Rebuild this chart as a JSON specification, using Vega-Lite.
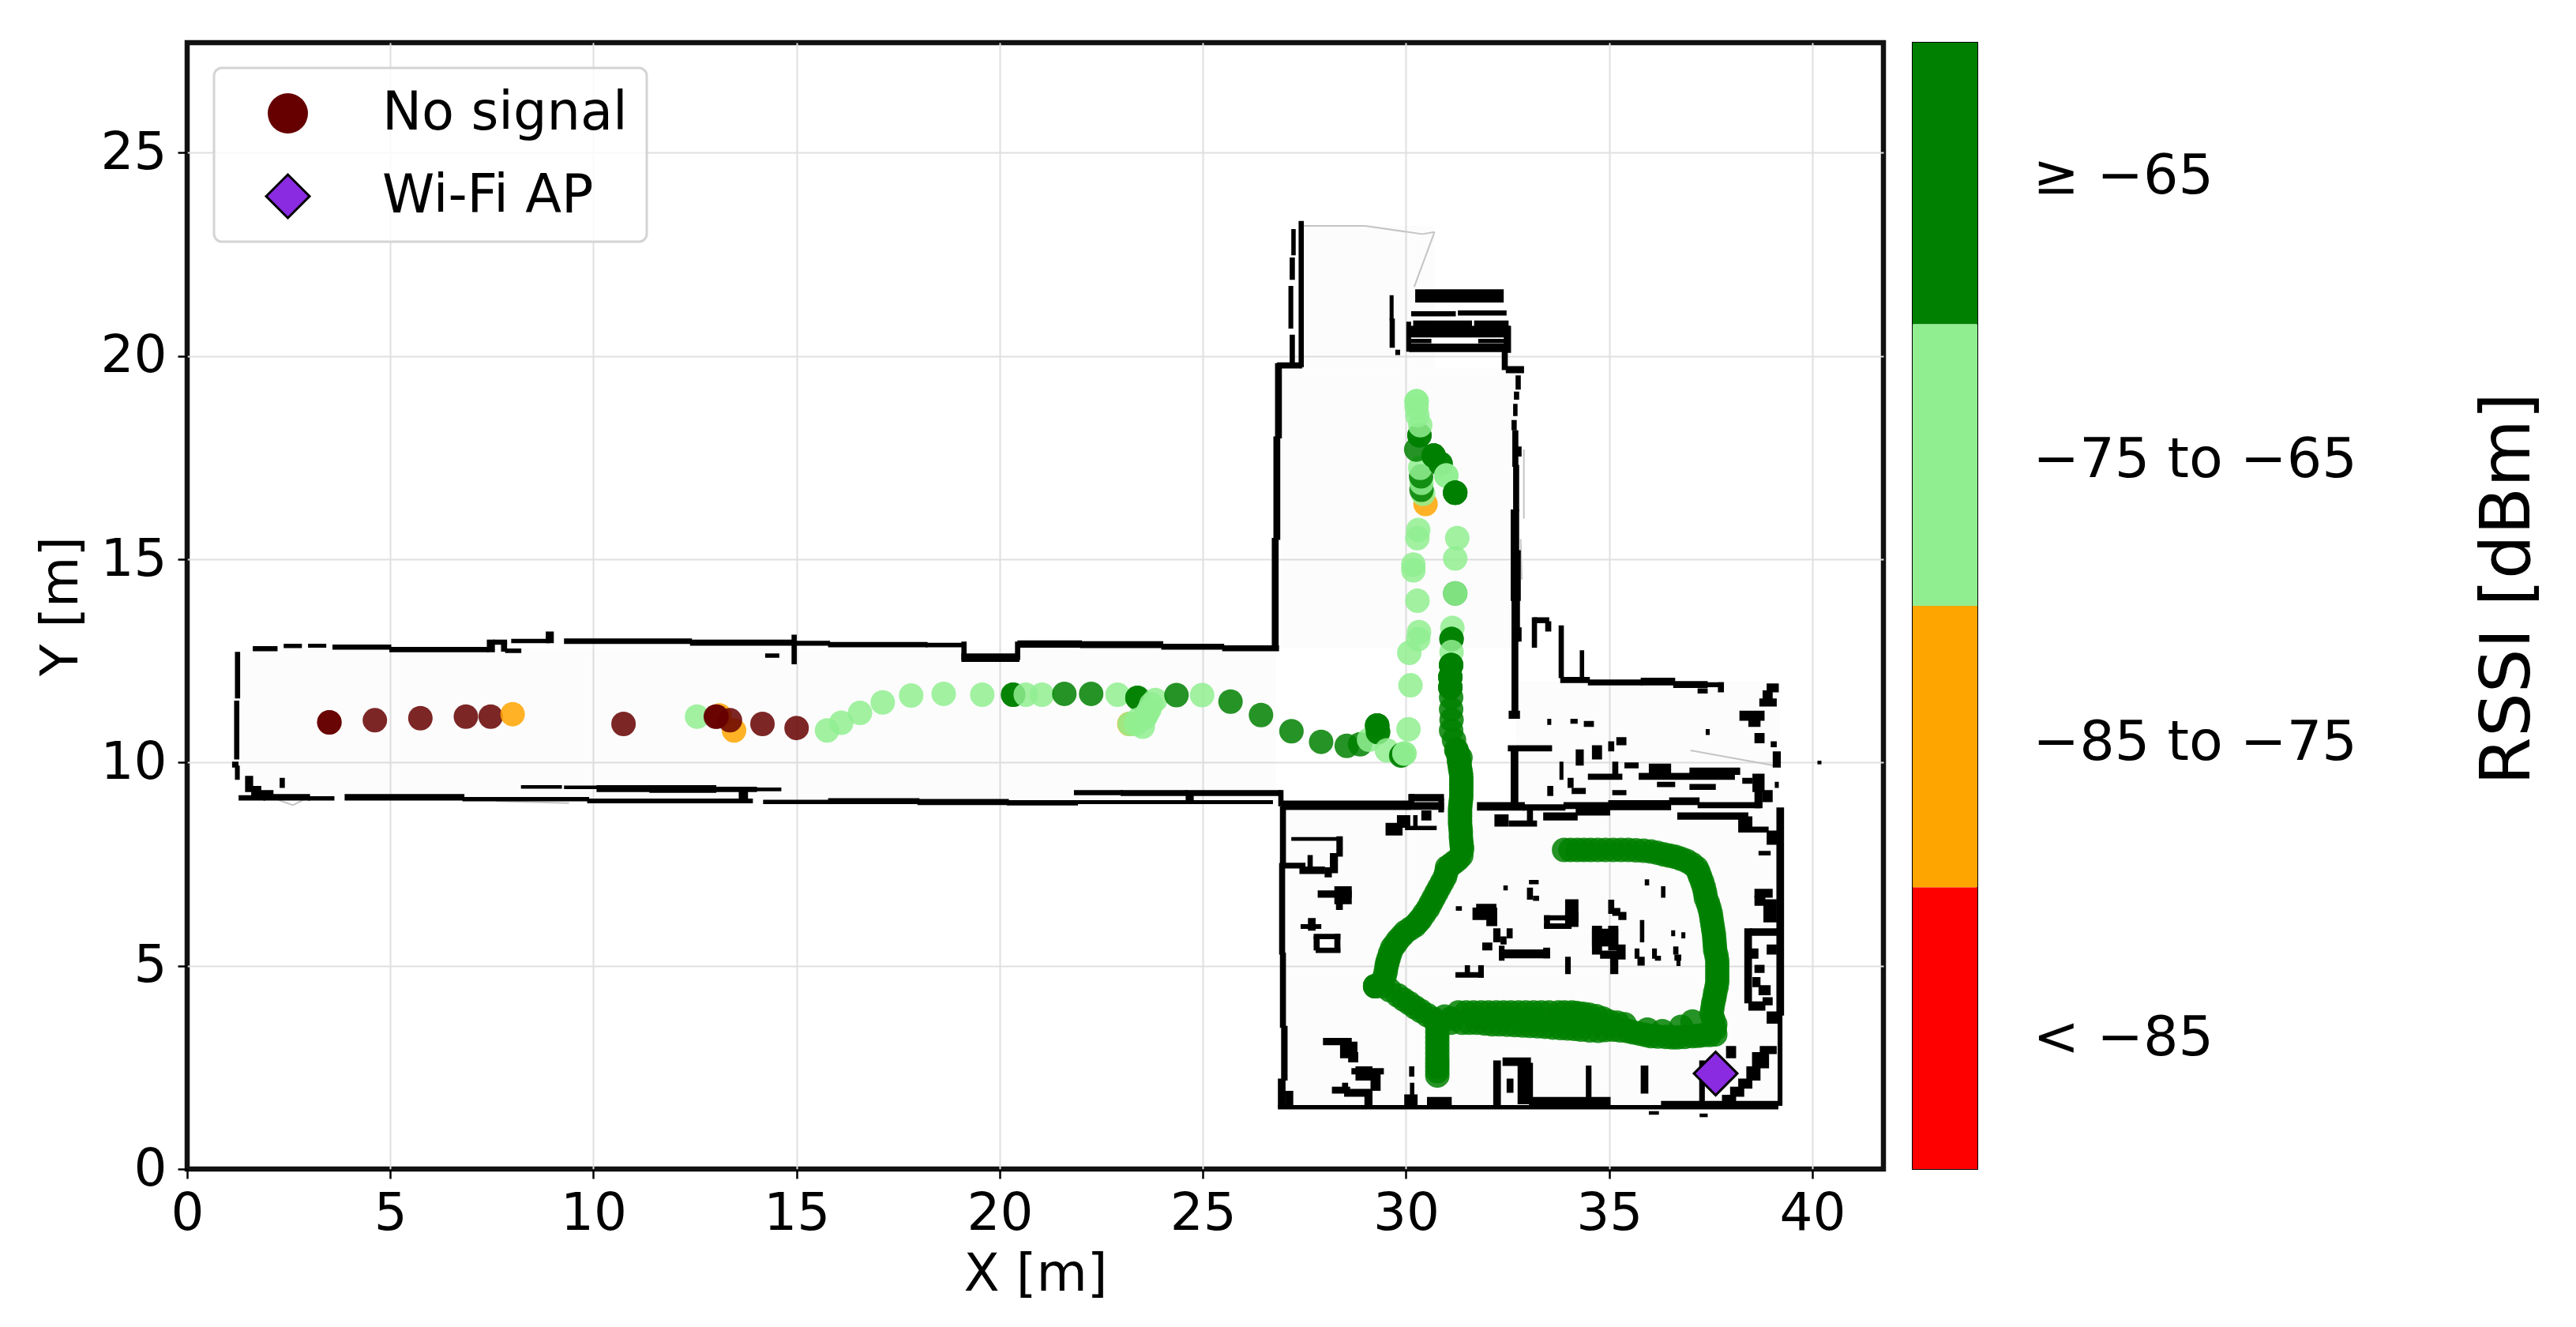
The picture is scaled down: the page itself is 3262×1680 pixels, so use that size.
{
"$schema":"https://vega.github.io/schema/vega-lite/v6.json",
"background":"white",
"padding":{"left":40,"top":50,"right":40,"bottom":20},
"spacing":32,
"config":{"font":"DejaVu Sans","axis":{"labelFont":"DejaVu Sans","titleFont":"DejaVu Sans"}},
"datasets":{
"floor":[{"x":1.3,"x2":26.8,"y":9.1,"y2":12.8},{"x":26.9,"x2":32.7,"y":12.8,"y2":19.7},{"x":27.4,"x2":30.7,"y":19.7,"y2":23.2},{"x":27,"x2":39.2,"y":1.5,"y2":8.9},{"x":32.7,"x2":39.2,"y":8.9,"y2":12}],
"walls":[
{"x":1.2,"x2":1.28,"y":12.7,"y2":11.6},{"x":1.18,"x2":1.26,"y":11.5,"y2":10.1},{"x":1.13,"x2":1.24,"y":10.0,"y2":9.9},{"x":1.2,"x2":1.27,"y":9.9,"y2":9.6},
{"x":1.64,"x2":2.2,"y":12.84,"y2":12.76},{"x":2.4,"x2":2.8,"y":12.9,"y2":12.84},{"x":3.0,"x2":3.4,"y":12.9,"y2":12.85},{"x":3.6,"x2":5.0,"y":12.88,"y2":12.8},{"x":5.0,"x2":7.4,"y":12.82,"y2":12.74},{"x":7.4,"x2":7.55,"y":13.0,"y2":12.74},{"x":7.55,"x2":7.85,"y":13.0,"y2":12.92},{"x":7.75,"x2":7.85,"y":12.95,"y2":12.75},{"x":7.85,"x2":8.2,"y":12.78,"y2":12.72},
{"x":8.0,"x2":8.9,"y":13.02,"y2":12.96},{"x":8.85,"x2":9.0,"y":13.2,"y2":12.96},{"x":9.3,"x2":12.4,"y":13.03,"y2":12.94},{"x":12.4,"x2":14.9,"y":13.0,"y2":12.9},{"x":14.25,"x2":14.55,"y":12.66,"y2":12.6},{"x":14.9,"x2":14.98,"y":13.12,"y2":12.44},{"x":15.0,"x2":15.8,"y":12.97,"y2":12.9},
{"x":15.8,"x2":18.2,"y":12.94,"y2":12.86},{"x":18.2,"x2":19.1,"y":12.92,"y2":12.86},{"x":19.08,"x2":19.16,"y":12.95,"y2":12.55},{"x":19.08,"x2":20.46,"y":12.66,"y2":12.5},{"x":20.4,"x2":20.48,"y":12.95,"y2":12.55},{"x":20.46,"x2":22.0,"y":12.98,"y2":12.85},{"x":22.0,"x2":24.0,"y":12.96,"y2":12.84},{"x":24.0,"x2":25.5,"y":12.9,"y2":12.8},{"x":25.5,"x2":26.85,"y":12.86,"y2":12.76},
{"x":1.29,"x2":1.9,"y":9.17,"y2":9.09},{"x":1.9,"x2":3.0,"y":9.2,"y2":9.09},{"x":3.0,"x2":3.6,"y":9.15,"y2":9.09},{"x":3.9,"x2":6.8,"y":9.2,"y2":9.09},{"x":6.8,"x2":9.87,"y":9.13,"y2":9.07},{"x":9.87,"x2":13.9,"y":9.09,"y2":9.02},
{"x":1.45,"x2":1.6,"y":9.65,"y2":9.3},{"x":1.6,"x2":1.8,"y":9.4,"y2":9.2},{"x":1.8,"x2":2.1,"y":9.3,"y2":9.15},{"x":2.3,"x2":2.38,"y":9.6,"y2":9.4},
{"x":8.24,"x2":9.2,"y":9.42,"y2":9.38},{"x":9.3,"x2":10.1,"y":9.41,"y2":9.37},{"x":10.1,"x2":11.4,"y":9.42,"y2":9.3},{"x":11.4,"x2":13.0,"y":9.42,"y2":9.28},{"x":13.0,"x2":14.0,"y":9.38,"y2":9.3},{"x":14.0,"x2":14.6,"y":9.36,"y2":9.32},{"x":13.6,"x2":13.7,"y":9.35,"y2":9.02},{"x":13.7,"x2":13.78,"y":9.35,"y2":9.02},
{"x":14.2,"x2":15.8,"y":9.06,"y2":9.0},{"x":15.8,"x2":18.0,"y":9.1,"y2":9.0},{"x":18.0,"x2":20.2,"y":9.08,"y2":8.98},{"x":20.2,"x2":21.9,"y":9.05,"y2":8.97},
{"x":21.85,"x2":23.0,"y":9.3,"y2":9.22},{"x":23.0,"x2":24.6,"y":9.3,"y2":9.2},{"x":24.6,"x2":26.9,"y":9.3,"y2":9.2},{"x":24.6,"x2":24.75,"y":9.25,"y2":9.03},{"x":21.9,"x2":26.7,"y":9.05,"y2":9.0},{"x":26.7,"x2":26.95,"y":9.28,"y2":9.24},{"x":26.88,"x2":26.96,"y":9.3,"y2":8.95},
{"x":26.96,"x2":30.1,"y":9.04,"y2":8.86},
{"x":26.72,"x2":26.84,"y":12.9,"y2":15.5},{"x":26.76,"x2":26.88,"y":15.5,"y2":18.0},{"x":26.8,"x2":26.92,"y":18.0,"y2":19.8},{"x":26.85,"x2":27.42,"y":19.82,"y2":19.72},{"x":27.38,"x2":27.46,"y":19.75,"y2":23.3},{"x":27.16,"x2":27.24,"y":19.8,"y2":20.5},{"x":27.13,"x2":27.2,"y":20.7,"y2":21.7},{"x":27.16,"x2":27.24,"y":21.9,"y2":22.4},{"x":27.2,"x2":27.26,"y":22.5,"y2":23.1},
{"x":30.25,"x2":32.38,"y":21.62,"y2":21.34},{"x":30.15,"x2":31.2,"y":21.08,"y2":21.0},{"x":31.3,"x2":32.45,"y":21.1,"y2":21.02},{"x":30.2,"x2":31.6,"y":20.85,"y2":20.76},{"x":31.7,"x2":32.5,"y":20.85,"y2":20.76},{"x":30.05,"x2":32.53,"y":20.72,"y2":20.48},{"x":30.1,"x2":30.6,"y":20.4,"y2":20.34},{"x":31.8,"x2":32.5,"y":20.4,"y2":20.34},{"x":30.1,"x2":32.48,"y":20.28,"y2":20.12},{"x":30.03,"x2":30.1,"y":20.82,"y2":20.13},{"x":32.43,"x2":32.56,"y":20.72,"y2":20.1},
{"x":29.62,"x2":29.67,"y":21.47,"y2":20.9},{"x":29.62,"x2":29.7,"y":20.9,"y2":20.23},{"x":29.76,"x2":29.83,"y":20.13,"y2":20.05},{"x":32.38,"x2":32.48,"y":20.13,"y2":19.68},{"x":32.48,"x2":32.88,"y":19.73,"y2":19.6},{"x":32.72,"x2":32.8,"y":19.5,"y2":19.2},{"x":32.68,"x2":32.76,"y":19.1,"y2":18.95},{"x":32.66,"x2":32.72,"y":18.8,"y2":18.55},{"x":32.62,"x2":32.7,"y":18.4,"y2":18.2},
{"x":32.64,"x2":32.74,"y":18.15,"y2":17.3},{"x":32.66,"x2":32.82,"y":17.75,"y2":17.55},{"x":32.66,"x2":32.76,"y":17.3,"y2":16.2},{"x":32.6,"x2":32.76,"y":16.2,"y2":15.2},{"x":32.6,"x2":32.8,"y":15.2,"y2":14.0},{"x":32.62,"x2":32.78,"y":14.0,"y2":13.0},{"x":32.72,"x2":32.82,"y":13.3,"y2":13.0},{"x":32.62,"x2":32.74,"y":13.0,"y2":11.2},{"x":32.55,"x2":32.78,"y":11.25,"y2":11.1},
{"x":33.12,"x2":33.2,"y":13.55,"y2":12.85},{"x":33.17,"x2":33.5,"y":13.55,"y2":13.45},{"x":33.45,"x2":33.55,"y":13.45,"y2":13.25},{"x":33.78,"x2":33.86,"y":13.35,"y2":12.1},{"x":33.82,"x2":34.5,"y":12.08,"y2":11.98},{"x":34.3,"x2":34.36,"y":12.74,"y2":12.05},{"x":34.5,"x2":35.8,"y":12.02,"y2":11.92},{"x":35.8,"x2":36.6,"y":12.06,"y2":11.92},{"x":36.6,"x2":37.4,"y":11.98,"y2":11.86},{"x":37.34,"x2":37.8,"y":11.95,"y2":11.88},{"x":37.2,"x2":37.4,"y":11.8,"y2":11.72},{"x":37.7,"x2":37.8,"y":11.95,"y2":11.75},
{"x":38.9,"x2":39.15,"y":11.92,"y2":11.75},{"x":38.72,"x2":39.1,"y":11.55,"y2":11.4},{"x":38.8,"x2":39.0,"y":11.75,"y2":11.55},{"x":38.23,"x2":38.8,"y":11.25,"y2":11.05},{"x":38.45,"x2":38.7,"y":11.05,"y2":10.9},{"x":38.6,"x2":38.8,"y":10.7,"y2":10.5},{"x":39.05,"x2":39.2,"y":10.25,"y2":9.9},{"x":39.0,"x2":39.1,"y":10.5,"y2":10.4},{"x":34.07,"x2":34.2,"y":11.05,"y2":10.98},{"x":34.4,"x2":34.6,"y":11.0,"y2":10.9},{"x":35.0,"x2":35.1,"y":10.5,"y2":10.3},{"x":35.2,"x2":35.4,"y":10.6,"y2":10.45},{"x":33.5,"x2":33.55,"y":11.05,"y2":10.95},{"x":37.4,"x2":37.45,"y":10.8,"y2":10.7},
{"x":32.53,"x2":33.57,"y":10.4,"y2":10.3},{"x":32.6,"x2":32.74,"y":10.35,"y2":9.0},{"x":33.8,"x2":33.85,"y":10.0,"y2":9.6},{"x":34.2,"x2":34.35,"y":10.3,"y2":9.95},{"x":34.6,"x2":34.8,"y":10.4,"y2":10.1},{"x":34.5,"x2":35.3,"y":9.7,"y2":9.6},{"x":35.1,"x2":35.2,"y":10.0,"y2":9.7},{"x":35.4,"x2":35.7,"y":9.98,"y2":9.88},{"x":35.75,"x2":38.07,"y":9.72,"y2":9.6},{"x":36.0,"x2":36.5,"y":9.95,"y2":9.72},{"x":37.0,"x2":38.2,"y":9.85,"y2":9.72},{"x":36.2,"x2":36.6,"y":9.5,"y2":9.42},{"x":37.0,"x2":37.6,"y":9.45,"y2":9.35},{"x":34.1,"x2":34.4,"y":9.35,"y2":9.25},{"x":35.1,"x2":35.4,"y":9.3,"y2":9.22},{"x":38.3,"x2":38.5,"y":9.6,"y2":9.5},{"x":38.55,"x2":38.8,"y":9.7,"y2":9.3},{"x":38.8,"x2":39.0,"y":9.3,"y2":9.05},{"x":33.5,"x2":33.6,"y":9.4,"y2":9.2},{"x":34.0,"x2":34.1,"y":9.6,"y2":9.4},
{"x":33.9,"x2":35.0,"y":9.0,"y2":8.88},{"x":35.0,"x2":36.5,"y":9.05,"y2":8.85},{"x":36.5,"x2":37.2,"y":9.12,"y2":8.98},{"x":37.2,"x2":38.7,"y":9.0,"y2":8.9},{"x":38.6,"x2":38.75,"y":9.45,"y2":8.9},
{"x":26.92,"x2":27.02,"y":8.9,"y2":7.5},{"x":26.9,"x2":27.0,"y":7.5,"y2":5.3},{"x":26.92,"x2":27.02,"y":5.3,"y2":3.5},{"x":26.95,"x2":27.06,"y":3.5,"y2":2.2},{"x":26.87,"x2":27.01,"y":2.2,"y2":1.55},{"x":27.05,"x2":27.2,"y":1.9,"y2":1.6},
{"x":26.87,"x2":39.14,"y":1.55,"y2":1.49},{"x":26.96,"x2":30.91,"y":9.0,"y2":8.86},{"x":31.77,"x2":32.9,"y":9.0,"y2":8.84},{"x":32.9,"x2":33.9,"y":8.95,"y2":8.84},{"x":33.0,"x2":33.1,"y":8.84,"y2":8.5},{"x":32.2,"x2":32.5,"y":8.7,"y2":8.45},{"x":32.55,"x2":33.2,"y":8.55,"y2":8.45},{"x":33.4,"x2":34.2,"y":8.75,"y2":8.6},{"x":34.2,"x2":35.0,"y":8.85,"y2":8.72},{"x":36.7,"x2":38.4,"y":8.75,"y2":8.62},{"x":38.2,"x2":38.5,"y":8.65,"y2":8.3},{"x":38.5,"x2":38.9,"y":8.4,"y2":8.3},
{"x":39.14,"x2":39.28,"y":8.87,"y2":3.8},{"x":39.17,"x2":39.24,"y":3.8,"y2":1.58},
{"x":30.08,"x2":30.91,"y":9.2,"y2":9.07},{"x":30.82,"x2":30.91,"y":9.1,"y2":8.8},{"x":30.1,"x2":30.18,"y":9.2,"y2":8.9},{"x":30.0,"x2":30.73,"y":8.42,"y2":8.36},{"x":30.4,"x2":30.6,"y":8.8,"y2":8.6},{"x":29.52,"x2":29.89,"y":8.49,"y2":8.23},{"x":29.8,"x2":30.08,"y":8.68,"y2":8.42},{"x":30.2,"x2":30.26,"y":8.68,"y2":8.4},
{"x":27.2,"x2":28.4,"y":8.14,"y2":8.1},{"x":28.31,"x2":28.42,"y":8.16,"y2":7.71},{"x":28.15,"x2":28.3,"y":7.75,"y2":7.3},{"x":28.02,"x2":28.15,"y":7.4,"y2":7.2},{"x":26.92,"x2":27.5,"y":7.51,"y2":7.42},{"x":27.4,"x2":27.98,"y":7.42,"y2":7.28},{"x":27.6,"x2":27.68,"y":7.7,"y2":7.4},
{"x":27.85,"x2":28.64,"y":6.83,"y2":6.7},{"x":28.26,"x2":28.64,"y":6.93,"y2":6.54},{"x":28.3,"x2":28.42,"y":6.54,"y2":6.4},
{"x":27.43,"x2":27.89,"y":6.0,"y2":5.93},{"x":27.61,"x2":27.75,"y":6.15,"y2":5.89},
{"x":27.75,"x2":28.36,"y":5.76,"y2":5.68},{"x":27.75,"x2":27.85,"y":5.7,"y2":5.4},{"x":28.26,"x2":28.36,"y":5.76,"y2":5.35},{"x":27.8,"x2":28.36,"y":5.42,"y2":5.34},
{"x":31.24,"x2":31.89,"y":4.82,"y2":4.73},{"x":31.47,"x2":31.55,"y":4.99,"y2":4.82},{"x":31.8,"x2":31.89,"y":4.99,"y2":4.73},
{"x":31.66,"x2":32.22,"y":6.41,"y2":6.15},{"x":31.75,"x2":32.2,"y":6.5,"y2":6.3},{"x":32.0,"x2":32.22,"y":6.15,"y2":6.0},{"x":32.17,"x2":32.3,"y":5.9,"y2":5.6},{"x":32.5,"x2":32.6,"y":5.9,"y2":5.7},{"x":32.35,"x2":32.45,"y":5.7,"y2":5.55},{"x":31.9,"x2":32.1,"y":5.55,"y2":5.4},{"x":32.31,"x2":33.52,"y":5.38,"y2":5.21},{"x":32.31,"x2":32.4,"y":5.47,"y2":5.15},{"x":33.4,"x2":33.52,"y":5.42,"y2":5.21},
{"x":33.42,"x2":34.17,"y":6.22,"y2":6.14},{"x":33.42,"x2":33.52,"y":6.22,"y2":5.96},{"x":33.42,"x2":34.05,"y":6.02,"y2":5.93},{"x":33.94,"x2":34.22,"y":6.61,"y2":6.1},{"x":33.94,"x2":34.22,"y":6.3,"y2":5.98},
{"x":34.6,"x2":35.2,"y":5.89,"y2":5.5},{"x":34.6,"x2":34.8,"y":5.96,"y2":5.3},{"x":35.0,"x2":35.2,"y":5.96,"y2":5.4},{"x":35.2,"x2":35.38,"y":5.5,"y2":5.18},{"x":35.05,"x2":35.2,"y":5.18,"y2":4.82},{"x":34.8,"x2":35.2,"y":5.35,"y2":5.2},
{"x":35.0,"x2":35.1,"y":6.6,"y2":6.3},{"x":35.1,"x2":35.25,"y":6.4,"y2":6.25},{"x":35.25,"x2":35.4,"y":6.3,"y2":6.15},{"x":33.94,"x2":34.03,"y":5.2,"y2":4.82},
{"x":35.65,"x2":35.72,"y":5.4,"y2":5.2},{"x":35.72,"x2":35.85,"y":5.2,"y2":5.03},{"x":36.08,"x2":36.15,"y":5.4,"y2":5.2},{"x":36.15,"x2":36.25,"y":5.22,"y2":5.15},{"x":36.63,"x2":36.75,"y":5.25,"y2":5.15},{"x":36.68,"x2":36.73,"y":5.15,"y2":5.02},{"x":36.6,"x2":36.68,"y":5.45,"y2":5.3},
{"x":33.0,"x2":33.1,"y":6.9,"y2":6.65},{"x":33.05,"x2":33.24,"y":7.09,"y2":7.03},{"x":33.15,"x2":33.25,"y":6.7,"y2":6.62},{"x":36.3,"x2":36.36,"y":6.93,"y2":6.7},{"x":35.9,"x2":35.96,"y":7.1,"y2":7.0},{"x":32.42,"x2":32.48,"y":6.95,"y2":6.88},{"x":31.25,"x2":31.35,"y":6.44,"y2":6.38},{"x":35.78,"x2":35.84,"y":6.1,"y2":5.6},{"x":36.55,"x2":36.6,"y":5.85,"y2":5.75},{"x":36.8,"x2":36.85,"y":5.8,"y2":5.7},
{"x":38.35,"x2":38.49,"y":5.9,"y2":4.1},{"x":38.49,"x2":39.14,"y":5.9,"y2":5.76},{"x":38.45,"x2":38.82,"y":4.1,"y2":3.92},{"x":38.5,"x2":38.65,"y":5.4,"y2":5.2},{"x":38.6,"x2":38.8,"y":5.0,"y2":4.85},{"x":38.55,"x2":38.7,"y":4.7,"y2":4.5},{"x":38.7,"x2":38.95,"y":4.5,"y2":4.3},{"x":38.8,"x2":39.0,"y":4.2,"y2":4.05},{"x":38.9,"x2":39.1,"y":5.5,"y2":5.3},{"x":38.9,"x2":39.14,"y":3.85,"y2":3.6},
{"x":38.6,"x2":39.0,"y":6.87,"y2":6.7},{"x":38.6,"x2":38.82,"y":6.7,"y2":6.5},{"x":38.82,"x2":39.1,"y":6.61,"y2":6.09},{"x":38.9,"x2":39.14,"y":8.3,"y2":8.0},{"x":38.7,"x2":38.95,"y":7.8,"y2":7.74},
{"x":27.98,"x2":28.64,"y":3.2,"y2":3.07},{"x":28.4,"x2":28.78,"y":3.11,"y2":2.75},{"x":28.6,"x2":28.8,"y":2.85,"y2":2.65},{"x":28.68,"x2":29.43,"y":2.46,"y2":2.35},{"x":28.78,"x2":29.15,"y":2.5,"y2":2.2},{"x":29.15,"x2":29.35,"y":2.4,"y2":1.95},{"x":28.2,"x2":28.6,"y":2.0,"y2":1.88},{"x":28.5,"x2":29.15,"y":1.95,"y2":1.8},{"x":29.0,"x2":29.15,"y":1.85,"y2":1.55},{"x":28.45,"x2":28.55,"y":2.1,"y2":1.95},
{"x":29.98,"x2":30.26,"y":1.81,"y2":1.55},{"x":30.1,"x2":30.18,"y":2.5,"y2":2.3},{"x":30.12,"x2":30.18,"y":2.1,"y2":1.8},{"x":30.54,"x2":31.1,"y":1.75,"y2":1.6},
{"x":32.17,"x2":32.31,"y":2.65,"y2":1.58},{"x":32.4,"x2":33.05,"y":2.72,"y2":2.56},{"x":32.77,"x2":33.1,"y":2.59,"y2":1.62},{"x":32.5,"x2":32.62,"y":2.2,"y2":1.9},{"x":33.05,"x2":35.01,"y":1.75,"y2":1.55},{"x":34.45,"x2":34.54,"y":2.52,"y2":1.75},{"x":35.8,"x2":35.94,"y":2.52,"y2":1.88},{"x":36.3,"x2":39.14,"y":1.65,"y2":1.55},{"x":37.24,"x2":37.33,"y":2.65,"y2":1.55},
{"x":38.73,"x2":39.1,"y":3.0,"y2":2.85},{"x":38.54,"x2":38.91,"y":2.85,"y2":2.5},{"x":38.4,"x2":38.7,"y":2.5,"y2":2.2},{"x":38.2,"x2":38.5,"y":2.2,"y2":2.0},{"x":38.0,"x2":38.3,"y":2.0,"y2":1.8},{"x":37.8,"x2":38.1,"y":1.8,"y2":1.6},{"x":37.9,"x2":38.1,"y":3.0,"y2":2.75},{"x":36.0,"x2":36.2,"y":1.4,"y2":1.36},{"x":37.25,"x2":37.4,"y":1.34,"y2":1.3},{"x":39.1,"x2":39.15,"y":9.5,"y2":9.4},{"x":40.15,"x2":40.2,"y":10.02,"y2":9.98}
],
"outline":[
{"x":27.47,"x2":29.0,"y":23.2,"y2":23.2},{"x":29.0,"x2":30.4,"y":23.2,"y2":23.0},{"x":30.4,"x2":30.7,"y":23.0,"y2":23.05},{"x":30.7,"x2":30.2,"y":23.05,"y2":21.7},{"x":9.4,"x2":7.6,"y":9.0,"y2":9.05},{"x":32.9,"x2":32.9,"y":17.7,"y2":16.0},{"x":32.82,"x2":32.85,"y":15.5,"y2":14.5},{"x":37.0,"x2":39.2,"y":10.3,"y2":9.9},{"x":2.2,"x2":2.6,"y":9.1,"y2":8.95},{"x":2.6,"x2":2.9,"y":8.95,"y2":9.1}
],
"points":[
{"x":3.5,"y":10.99,"kind":"No signal"},{"x":3.5,"y":10.99,"kind":"No signal"},{"x":4.62,"y":11.04,"kind":"No signal"},{"x":5.74,"y":11.09,"kind":"No signal"},{"x":6.86,"y":11.13,"kind":"No signal"},{"x":7.47,"y":11.13,"kind":"No signal"},{"x":8.01,"y":11.19,"kind":"−85 to −75"},{"x":10.74,"y":10.95,"kind":"No signal"},{"x":12.55,"y":11.13,"kind":"−75 to −65"},{"x":13.46,"y":10.79,"kind":"−85 to −75"},{"x":13.1,"y":11.16,"kind":"−85 to −75"},{"x":13.01,"y":11.13,"kind":"No signal"},{"x":13.03,"y":11.13,"kind":"No signal"},{"x":13.36,"y":11.04,"kind":"No signal"},{"x":14.16,"y":10.95,"kind":"No signal"},{"x":15.0,"y":10.85,"kind":"No signal"},
{"x":15.75,"y":10.79,"kind":"−75 to −65"},{"x":16.1,"y":10.98,"kind":"−75 to −65"},{"x":16.56,"y":11.22,"kind":"−75 to −65"},{"x":17.12,"y":11.48,"kind":"−75 to −65"},{"x":17.82,"y":11.65,"kind":"−75 to −65"},{"x":18.62,"y":11.69,"kind":"−75 to −65"},{"x":19.57,"y":11.67,"kind":"−75 to −65"},{"x":20.33,"y":11.67,"kind":"≥ −65"},{"x":20.33,"y":11.67,"kind":"≥ −65"},{"x":20.64,"y":11.67,"kind":"−75 to −65"},{"x":21.04,"y":11.67,"kind":"−75 to −65"},{"x":21.59,"y":11.69,"kind":"≥ −65"},{"x":22.25,"y":11.69,"kind":"≥ −65"},{"x":22.9,"y":11.67,"kind":"−75 to −65"},
{"x":23.39,"y":11.59,"kind":"≥ −65"},{"x":23.39,"y":11.59,"kind":"≥ −65"},{"x":23.19,"y":10.95,"kind":"−85 to −75"},{"x":23.83,"y":11.54,"kind":"−75 to −65"},{"x":23.73,"y":11.43,"kind":"−75 to −65"},{"x":23.68,"y":11.3,"kind":"−75 to −65"},{"x":23.62,"y":11.2,"kind":"−75 to −65"},{"x":23.58,"y":11.11,"kind":"−75 to −65"},{"x":23.52,"y":10.88,"kind":"−75 to −65"},{"x":23.2,"y":10.95,"kind":"−75 to −65"},{"x":23.35,"y":10.95,"kind":"−75 to −65"},{"x":23.4,"y":11.05,"kind":"−75 to −65"},
{"x":24.35,"y":11.66,"kind":"≥ −65"},{"x":24.98,"y":11.66,"kind":"−75 to −65"},{"x":25.68,"y":11.5,"kind":"≥ −65"},{"x":26.43,"y":11.17,"kind":"≥ −65"},{"x":27.18,"y":10.77,"kind":"≥ −65"},{"x":27.91,"y":10.51,"kind":"≥ −65"},{"x":28.54,"y":10.41,"kind":"≥ −65"},{"x":28.87,"y":10.45,"kind":"≥ −65"},{"x":29.09,"y":10.56,"kind":"−75 to −65"},{"x":29.29,"y":10.91,"kind":"≥ −65"},{"x":29.29,"y":10.91,"kind":"≥ −65"},{"x":29.29,"y":10.91,"kind":"≥ −65"},{"x":29.31,"y":10.75,"kind":"≥ −65"},{"x":29.31,"y":10.75,"kind":"≥ −65"},{"x":29.53,"y":10.3,"kind":"−75 to −65"},{"x":29.88,"y":10.17,"kind":"≥ −65"},{"x":29.9,"y":10.19,"kind":"≥ −65"},{"x":29.96,"y":10.22,"kind":"−75 to −65"},{"x":29.96,"y":10.22,"kind":"−75 to −65"},
{"x":30.06,"y":10.82,"kind":"−75 to −65"},{"x":30.11,"y":11.9,"kind":"−75 to −65"},{"x":30.08,"y":12.7,"kind":"−75 to −65"},{"x":30.3,"y":13.04,"kind":"−75 to −65"},{"x":30.32,"y":13.21,"kind":"−75 to −65"},{"x":30.28,"y":13.98,"kind":"−75 to −65"},{"x":30.18,"y":14.73,"kind":"−75 to −65"},{"x":30.18,"y":14.87,"kind":"−75 to −65"},{"x":30.28,"y":15.52,"kind":"−75 to −65"},{"x":30.3,"y":15.72,"kind":"−75 to −65"},{"x":30.48,"y":16.36,"kind":"−85 to −75"},{"x":30.42,"y":16.61,"kind":"−75 to −65"},{"x":30.38,"y":16.71,"kind":"≥ −65"},{"x":30.38,"y":16.88,"kind":"−75 to −65"},{"x":30.37,"y":17.04,"kind":"≥ −65"},{"x":30.35,"y":17.25,"kind":"−75 to −65"},{"x":30.25,"y":17.7,"kind":"≥ −65"},{"x":30.33,"y":18.05,"kind":"≥ −65"},{"x":30.33,"y":18.05,"kind":"≥ −65"},{"x":30.35,"y":18.3,"kind":"−75 to −65"},{"x":30.28,"y":18.54,"kind":"−75 to −65"},{"x":30.26,"y":18.74,"kind":"−75 to −65"},{"x":30.26,"y":18.89,"kind":"−75 to −65"},{"x":30.26,"y":18.89,"kind":"−75 to −65"},
{"x":30.68,"y":17.55,"kind":"≥ −65"},{"x":30.68,"y":17.55,"kind":"≥ −65"},{"x":30.68,"y":17.55,"kind":"≥ −65"},{"x":30.85,"y":17.35,"kind":"≥ −65"},{"x":30.85,"y":17.35,"kind":"≥ −65"},{"x":30.99,"y":17.06,"kind":"−75 to −65"},{"x":30.99,"y":17.06,"kind":"−75 to −65"},{"x":31.21,"y":16.64,"kind":"≥ −65"},{"x":31.21,"y":16.64,"kind":"≥ −65"},{"x":31.21,"y":16.64,"kind":"≥ −65"},
{"x":31.26,"y":15.52,"kind":"−75 to −65"},{"x":31.21,"y":15.02,"kind":"−75 to −65"},{"x":31.21,"y":14.16,"kind":"≥ −65"},{"x":31.21,"y":14.16,"kind":"−75 to −65"},{"x":31.14,"y":13.31,"kind":"−75 to −65"},{"x":31.12,"y":13.04,"kind":"≥ −65"},{"x":31.12,"y":13.04,"kind":"≥ −65"},{"x":31.12,"y":12.72,"kind":"−75 to −65"},{"x":31.11,"y":12.4,"kind":"≥ −65"},{"x":31.11,"y":12.4,"kind":"≥ −65"},{"x":31.11,"y":12.4,"kind":"≥ −65"},{"x":31.09,"y":12.1,"kind":"≥ −65"},{"x":31.09,"y":12.1,"kind":"≥ −65"},{"x":31.09,"y":12.1,"kind":"≥ −65"},{"x":31.09,"y":11.85,"kind":"≥ −65"},{"x":31.09,"y":11.85,"kind":"≥ −65"},{"x":31.09,"y":11.85,"kind":"≥ −65"},{"x":31.11,"y":11.6,"kind":"≥ −65"},{"x":31.11,"y":11.31,"kind":"≥ −65"},{"x":31.11,"y":10.79,"kind":"≥ −65"},{"x":31.12,"y":11.05,"kind":"≥ −65"},{"x":31.18,"y":10.55,"kind":"≥ −65"},{"x":31.24,"y":10.31,"kind":"≥ −65"},{"x":31.24,"y":10.31,"kind":"≥ −65"},{"x":31.28,"y":10.2,"kind":"≥ −65"},{"x":31.34,"y":10.12,"kind":"≥ −65"},
{"x":31.3,"y":10.04,"kind":"≥ −65"},{"x":31.32,"y":9.95,"kind":"≥ −65"},{"x":31.33,"y":9.85,"kind":"≥ −65"},{"x":31.35,"y":9.75,"kind":"≥ −65"},{"x":31.36,"y":9.65,"kind":"≥ −65"},{"x":31.36,"y":9.55,"kind":"≥ −65"},{"x":31.36,"y":9.46,"kind":"≥ −65"},{"x":31.36,"y":9.36,"kind":"≥ −65"},{"x":31.36,"y":9.26,"kind":"≥ −65"},{"x":31.36,"y":9.16,"kind":"≥ −65"},{"x":31.35,"y":9.07,"kind":"≥ −65"},{"x":31.34,"y":8.97,"kind":"≥ −65"},{"x":31.33,"y":8.87,"kind":"≥ −65"},{"x":31.33,"y":8.77,"kind":"≥ −65"},{"x":31.33,"y":8.68,"kind":"≥ −65"},{"x":31.33,"y":8.58,"kind":"≥ −65"},{"x":31.33,"y":8.49,"kind":"≥ −65"},{"x":31.34,"y":8.39,"kind":"≥ −65"},{"x":31.35,"y":8.29,"kind":"≥ −65"},{"x":31.35,"y":8.17,"kind":"≥ −65"},{"x":31.36,"y":8.06,"kind":"≥ −65"},{"x":31.37,"y":7.96,"kind":"≥ −65"},{"x":31.38,"y":7.87,"kind":"≥ −65"},{"x":31.36,"y":7.71,"kind":"≥ −65"},{"x":31.28,"y":7.62,"kind":"≥ −65"},{"x":31.19,"y":7.55,"kind":"≥ −65"},{"x":31.1,"y":7.48,"kind":"≥ −65"},{"x":31.01,"y":7.42,"kind":"≥ −65"},{"x":30.99,"y":7.3,"kind":"≥ −65"},{"x":30.96,"y":7.19,"kind":"≥ −65"},{"x":30.89,"y":7.06,"kind":"≥ −65"},{"x":30.82,"y":6.93,"kind":"≥ −65"},{"x":30.75,"y":6.8,"kind":"≥ −65"},{"x":30.68,"y":6.67,"kind":"≥ −65"},{"x":30.61,"y":6.54,"kind":"≥ −65"},{"x":30.54,"y":6.41,"kind":"≥ −65"},{"x":30.45,"y":6.28,"kind":"≥ −65"},{"x":30.36,"y":6.15,"kind":"≥ −65"},{"x":30.29,"y":6.07,"kind":"≥ −65"},{"x":30.22,"y":5.99,"kind":"≥ −65"},{"x":30.1,"y":5.91,"kind":"≥ −65"},{"x":29.98,"y":5.83,"kind":"≥ −65"},{"x":29.89,"y":5.73,"kind":"≥ −65"},{"x":29.8,"y":5.63,"kind":"≥ −65"},{"x":29.73,"y":5.53,"kind":"≥ −65"},{"x":29.66,"y":5.44,"kind":"≥ −65"},{"x":29.61,"y":5.31,"kind":"≥ −65"},{"x":29.57,"y":5.18,"kind":"≥ −65"},{"x":29.54,"y":5.08,"kind":"≥ −65"},{"x":29.52,"y":4.99,"kind":"≥ −65"},{"x":29.5,"y":4.86,"kind":"≥ −65"},{"x":29.47,"y":4.73,"kind":"≥ −65"},{"x":29.43,"y":4.5,"kind":"≥ −65"},{"x":29.24,"y":4.5,"kind":"≥ −65"},{"x":29.24,"y":4.5,"kind":"≥ −65"},{"x":29.24,"y":4.5,"kind":"≥ −65"},
{"x":29.6,"y":4.4,"kind":"≥ −65"},{"x":29.8,"y":4.27,"kind":"≥ −65"},{"x":29.94,"y":4.17,"kind":"≥ −65"},{"x":30.08,"y":4.08,"kind":"≥ −65"},{"x":30.22,"y":3.98,"kind":"≥ −65"},{"x":30.36,"y":3.89,"kind":"≥ −65"},{"x":30.52,"y":3.79,"kind":"≥ −65"},{"x":30.68,"y":3.69,"kind":"≥ −65"},{"x":30.75,"y":3.6,"kind":"≥ −65"},{"x":30.77,"y":3.5,"kind":"≥ −65"},{"x":30.77,"y":3.37,"kind":"≥ −65"},{"x":30.77,"y":3.24,"kind":"≥ −65"},{"x":30.77,"y":3.11,"kind":"≥ −65"},{"x":30.77,"y":2.98,"kind":"≥ −65"},{"x":30.77,"y":2.85,"kind":"≥ −65"},{"x":30.77,"y":2.72,"kind":"≥ −65"},{"x":30.77,"y":2.62,"kind":"≥ −65"},{"x":30.77,"y":2.52,"kind":"≥ −65"},{"x":30.77,"y":2.41,"kind":"≥ −65"},{"x":30.77,"y":2.3,"kind":"≥ −65"},{"x":30.95,"y":3.75,"kind":"≥ −65"},{"x":31.1,"y":3.7,"kind":"≥ −65"},{"x":31.1,"y":3.6,"kind":"≥ −65"},
{"x":31.29,"y":3.85,"kind":"≥ −65"},{"x":31.48,"y":3.85,"kind":"≥ −65"},{"x":31.66,"y":3.85,"kind":"≥ −65"},{"x":31.85,"y":3.85,"kind":"≥ −65"},{"x":32.03,"y":3.85,"kind":"≥ −65"},{"x":32.22,"y":3.85,"kind":"≥ −65"},{"x":32.4,"y":3.85,"kind":"≥ −65"},{"x":32.58,"y":3.85,"kind":"≥ −65"},{"x":32.77,"y":3.85,"kind":"≥ −65"},{"x":32.95,"y":3.85,"kind":"≥ −65"},{"x":33.14,"y":3.85,"kind":"≥ −65"},{"x":33.33,"y":3.85,"kind":"≥ −65"},{"x":33.52,"y":3.85,"kind":"≥ −65"},{"x":33.75,"y":3.85,"kind":"≥ −65"},{"x":33.9,"y":3.85,"kind":"≥ −65"},{"x":34.08,"y":3.85,"kind":"≥ −65"},{"x":34.2,"y":3.84,"kind":"≥ −65"},{"x":34.35,"y":3.82,"kind":"≥ −65"},{"x":34.5,"y":3.8,"kind":"≥ −65"},{"x":34.68,"y":3.76,"kind":"≥ −65"},{"x":34.85,"y":3.7,"kind":"≥ −65"},{"x":35.0,"y":3.63,"kind":"≥ −65"},{"x":35.2,"y":3.6,"kind":"≥ −65"},{"x":35.38,"y":3.56,"kind":"≥ −65"},
{"x":31.38,"y":3.6,"kind":"≥ −65"},{"x":31.56,"y":3.6,"kind":"≥ −65"},{"x":31.75,"y":3.6,"kind":"≥ −65"},{"x":31.94,"y":3.58,"kind":"≥ −65"},{"x":32.12,"y":3.56,"kind":"≥ −65"},{"x":32.3,"y":3.56,"kind":"≥ −65"},{"x":32.49,"y":3.55,"kind":"≥ −65"},{"x":32.68,"y":3.54,"kind":"≥ −65"},{"x":32.87,"y":3.53,"kind":"≥ −65"},{"x":33.05,"y":3.52,"kind":"≥ −65"},{"x":33.24,"y":3.51,"kind":"≥ −65"},{"x":33.42,"y":3.5,"kind":"≥ −65"},{"x":33.61,"y":3.48,"kind":"≥ −65"},{"x":33.8,"y":3.47,"kind":"≥ −65"},{"x":33.98,"y":3.46,"kind":"≥ −65"},{"x":34.15,"y":3.45,"kind":"≥ −65"},{"x":34.31,"y":3.43,"kind":"≥ −65"},{"x":34.52,"y":3.41,"kind":"≥ −65"},{"x":34.73,"y":3.4,"kind":"≥ −65"},{"x":34.9,"y":3.42,"kind":"≥ −65"},
{"x":35.1,"y":3.43,"kind":"≥ −65"},{"x":35.28,"y":3.41,"kind":"≥ −65"},{"x":35.47,"y":3.39,"kind":"≥ −65"},{"x":35.6,"y":3.36,"kind":"≥ −65"},{"x":35.75,"y":3.33,"kind":"≥ −65"},{"x":35.9,"y":3.3,"kind":"≥ −65"},{"x":36.03,"y":3.27,"kind":"≥ −65"},{"x":36.2,"y":3.26,"kind":"≥ −65"},{"x":36.4,"y":3.25,"kind":"≥ −65"},{"x":36.55,"y":3.24,"kind":"≥ −65"},{"x":36.68,"y":3.24,"kind":"≥ −65"},{"x":36.85,"y":3.25,"kind":"≥ −65"},{"x":37.05,"y":3.27,"kind":"≥ −65"},{"x":37.2,"y":3.28,"kind":"≥ −65"},{"x":37.33,"y":3.3,"kind":"≥ −65"},{"x":37.47,"y":3.3,"kind":"≥ −65"},{"x":37.61,"y":3.31,"kind":"≥ −65"},{"x":35.94,"y":3.43,"kind":"≥ −65"},{"x":36.31,"y":3.39,"kind":"≥ −65"},{"x":36.77,"y":3.5,"kind":"≥ −65"},{"x":37.05,"y":3.63,"kind":"≥ −65"},
{"x":37.6,"y":3.45,"kind":"≥ −65"},{"x":37.61,"y":3.56,"kind":"≥ −65"},{"x":37.56,"y":3.69,"kind":"≥ −65"},{"x":37.52,"y":3.82,"kind":"≥ −65"},{"x":37.54,"y":3.95,"kind":"≥ −65"},{"x":37.56,"y":4.08,"kind":"≥ −65"},{"x":37.59,"y":4.21,"kind":"≥ −65"},{"x":37.61,"y":4.34,"kind":"≥ −65"},{"x":37.64,"y":4.47,"kind":"≥ −65"},{"x":37.66,"y":4.6,"kind":"≥ −65"},{"x":37.66,"y":4.73,"kind":"≥ −65"},{"x":37.66,"y":4.86,"kind":"≥ −65"},{"x":37.66,"y":4.99,"kind":"≥ −65"},{"x":37.66,"y":5.12,"kind":"≥ −65"},{"x":37.64,"y":5.25,"kind":"≥ −65"},{"x":37.61,"y":5.38,"kind":"≥ −65"},{"x":37.6,"y":5.5,"kind":"≥ −65"},{"x":37.59,"y":5.63,"kind":"≥ −65"},{"x":37.58,"y":5.76,"kind":"≥ −65"},{"x":37.56,"y":5.89,"kind":"≥ −65"},{"x":37.54,"y":6.02,"kind":"≥ −65"},{"x":37.52,"y":6.15,"kind":"≥ −65"},{"x":37.5,"y":6.28,"kind":"≥ −65"},{"x":37.47,"y":6.41,"kind":"≥ −65"},{"x":37.43,"y":6.54,"kind":"≥ −65"},{"x":37.38,"y":6.67,"kind":"≥ −65"},{"x":37.36,"y":6.8,"kind":"≥ −65"},{"x":37.33,"y":6.93,"kind":"≥ −65"},{"x":37.29,"y":7.06,"kind":"≥ −65"},{"x":37.24,"y":7.19,"kind":"≥ −65"},{"x":37.2,"y":7.3,"kind":"≥ −65"},{"x":37.15,"y":7.41,"kind":"≥ −65"},{"x":37.04,"y":7.5,"kind":"≥ −65"},{"x":36.91,"y":7.58,"kind":"≥ −65"},{"x":36.77,"y":7.63,"kind":"≥ −65"},{"x":36.63,"y":7.68,"kind":"≥ −65"},{"x":36.49,"y":7.71,"kind":"≥ −65"},{"x":36.35,"y":7.74,"kind":"≥ −65"},{"x":36.19,"y":7.78,"kind":"≥ −65"},{"x":36.03,"y":7.81,"kind":"≥ −65"},{"x":35.85,"y":7.83,"kind":"≥ −65"},{"x":35.66,"y":7.84,"kind":"≥ −65"},{"x":35.47,"y":7.85,"kind":"≥ −65"},{"x":35.29,"y":7.85,"kind":"≥ −65"},{"x":35.1,"y":7.85,"kind":"≥ −65"},{"x":34.91,"y":7.85,"kind":"≥ −65"},{"x":34.72,"y":7.85,"kind":"≥ −65"},{"x":34.54,"y":7.85,"kind":"≥ −65"},{"x":34.38,"y":7.85,"kind":"≥ −65"},{"x":34.22,"y":7.85,"kind":"≥ −65"},{"x":34.05,"y":7.85,"kind":"≥ −65"},{"x":33.89,"y":7.85,"kind":"≥ −65"}
],
"ap":[{"x":37.62,"y":2.35,"kind":"Wi-Fi AP"}],
"bins":[{"kind":"≥ −65"},{"kind":"−75 to −65"},{"kind":"−85 to −75"},{"kind":"< −85"}]
},
"hconcat":[
{"width":2148,"height":1426,
"view":{"stroke":"#111111","strokeWidth":6.5},
"layer":[
{"data":{"name":"floor"},"mark":{"type":"rect","fill":"black","opacity":0.01},"encoding":{
"x":{"field":"x","type":"quantitative","scale":{"domain":[0,41.75],"nice":false,"zero":false},
"axis":{"values":[0,5,10,15,20,25,30,35,40],"title":"X [m]","titleFontSize":66,"titleFontWeight":"normal","labelFontSize":66,"labelPadding":12,"labelFlush":false,"tickSize":12,"tickWidth":2.5,"tickColor":"black","labelColor":"black","titleColor":"black","domain":false,"titlePadding":12,"grid":true,"gridColor":{"condition":{"test":"datum.value===0","value":"transparent"},"value":"#e0e0e0"},"gridWidth":2}},
"x2":{"field":"x2"},
"y":{"field":"y","type":"quantitative","scale":{"domain":[0,27.71],"nice":false,"zero":false},
"axis":{"values":[0,5,10,15,20,25],"title":"Y [m]","titleFontSize":66,"titleFontWeight":"normal","labelFontSize":66,"labelPadding":14,"labelFlush":false,"tickSize":12,"tickWidth":2.5,"tickColor":"black","labelColor":"black","titleColor":"black","domain":false,"titlePadding":16,"grid":true,"gridColor":{"condition":{"test":"datum.value===0","value":"transparent"},"value":"#e0e0e0"},"gridWidth":2}},
"y2":{"field":"y2"}}},
{"data":{"name":"outline"},"mark":{"type":"rule","color":"#c4c4c4","strokeWidth":2},"encoding":{"x":{"field":"x","type":"quantitative"},"x2":{"field":"x2"},"y":{"field":"y","type":"quantitative"},"y2":{"field":"y2"}}},
{"data":{"name":"walls"},"mark":{"type":"rect","fill":"black","stroke":"black","strokeWidth":2.5},"encoding":{"x":{"field":"x","type":"quantitative"},"x2":{"field":"x2"},"y":{"field":"y","type":"quantitative"},"y2":{"field":"y2"}}},
{"data":{"name":"points"},"mark":{"type":"point","shape":"circle","filled":true,"size":961,"opacity":0.85,"strokeWidth":0},"encoding":{"x":{"field":"x","type":"quantitative"},"y":{"field":"y","type":"quantitative"},
"color":{"field":"kind","type":"nominal","scale":{"domain":["≥ −65","−75 to −65","−85 to −75","< −85","No signal","Wi-Fi AP"],"range":["#008000","#90ee90","#ffa500","#ff0000","#660000","#8a2be2"]},
"legend":{"values":["No signal","Wi-Fi AP"],"title":null,"orient":"none","legendX":34,"legendY":32,"fillColor":"rgba(255,255,255,0.8)","strokeColor":"#d4d4d4","cornerRadius":10,"padding":24,"labelFontSize":67,"labelLimit":0,"labelColor":"black","labelFont":"DejaVu Sans","symbolSize":2600,"symbolOpacity":1,"symbolOffset":36,"labelOffset":86,"rowPadding":37,"encode":{"legend":{"update":{"strokeWidth":{"value":3}}},"symbols":{"update":{"size":{"signal":"datum.value==='Wi-Fi AP'?3025:2600"},"shape":{"signal":"datum.value==='Wi-Fi AP'?'diamond':'circle'"},"stroke":{"signal":"datum.value==='Wi-Fi AP'?'black':'#660000'"},"strokeWidth":{"signal":"datum.value==='Wi-Fi AP'?3:0"}}}}}}}},
{"data":{"name":"ap"},"mark":{"type":"point","shape":"diamond","filled":true,"size":3025,"opacity":1,"stroke":"black","strokeWidth":3},"encoding":{"x":{"field":"x","type":"quantitative"},"y":{"field":"y","type":"quantitative"},"color":{"field":"kind","type":"nominal"}}}
]},
{"width":82,"height":1426,
"view":{"stroke":"black","strokeWidth":2},
"data":{"name":"bins"},
"mark":{"type":"rect"},
"encoding":{
"y":{"field":"kind","type":"nominal","sort":null,"scale":{"domain":["≥ −65","−75 to −65","−85 to −75","< −85"],"paddingInner":0,"paddingOuter":0},
"axis":{"orient":"right","title":"RSSI [dBm]","titleFontSize":88,"titleFontWeight":"normal","titleColor":"black","titleAngle":270,"titleBaseline":"middle","titleAlign":"center","titleX":672,"titleY":691,"labelFontSize":70,"labelLimit":0,"labelColor":"black","labelPadding":70,"ticks":false,"domain":false,"grid":false,
"labelOffset":{"condition":[{"test":"datum.value==='≥ −65'","value":-8},{"test":"datum.value==='−75 to −65'","value":-6},{"test":"datum.value==='−85 to −75'","value":-4}],"value":13}}},
"color":{"field":"kind","type":"nominal","legend":null}
}}
]
}
